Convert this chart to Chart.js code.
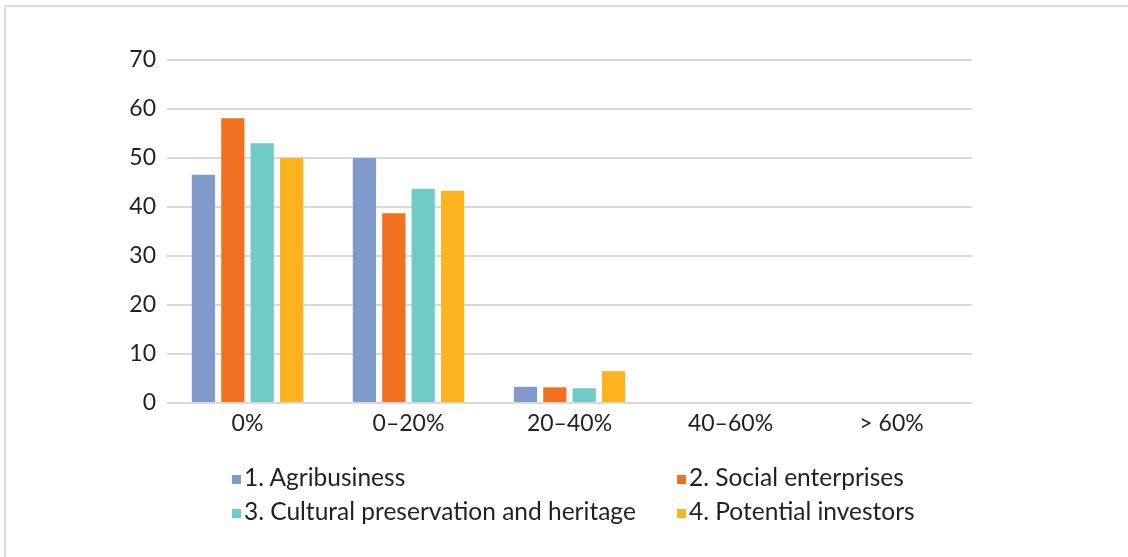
<!DOCTYPE html>
<html>
<head>
<meta charset="utf-8">
<script src="https://cdn.jsdelivr.net/npm/chart.js@4.4.1/dist/chart.umd.min.js"></script>
<style>
  html, body { margin: 0; padding: 0; background: #ffffff; }
  #wrap { position: relative; width: 1128px; height: 557px; overflow: hidden; }
  #frame {
    position: absolute; left: 4px; top: 5px; right: 0; bottom: 0;
    border-top: 2px solid #dcdcdc; border-left: 2px solid #dcdcdc;
  }
  #chart { position: absolute; left: 0; top: 0; }
  #legend {
    position: absolute; left: 232px; top: 461px;
    display: grid; grid-template-columns: 445px 300px; row-gap: 4px;
    font-family: Lato, "Open Sans", sans-serif; font-size: 24.5px; color: #231f20;
  }
  .item { display: flex; align-items: center; height: 30px; white-space: nowrap; }
  .box { width: 9px; height: 9px; margin-right: 3px; margin-top: 6px; }
</style>
</head>
<body>
<div id="wrap">
  <div id="frame"></div>
  <canvas id="chart" width="1128" height="557"></canvas>
  <div id="legend"></div>
</div>
<script>
// categories on the x axis
const categories = ["0%", "0\u201320%", "20\u201340%", "40\u201360%", "> 60%"];

// series values
const agribusiness = [46.6, 50.0, 3.3, 0, 0];
const socialEnterprises = [58.1, 38.7, 3.2, 0, 0];
const culturalHeritage = [53.0, 43.7, 3.0, 0, 0];
const potentialInvestors = [50.0, 43.3, 6.5, 0, 0];

const seriesNames = [
  "1. Agribusiness",
  "2. Social enterprises",
  "3. Cultural preservation and heritage",
  "4. Potential investors",
];
const seriesColors = ["#7f9acb", "#f37021", "#6fcbc5", "#fbb41e"];

// y axis ticks
const yMin = 0;
const yMax = 70;
const yStep = 10;

const seriesValues = [agribusiness, socialEnterprises, culturalHeritage, potentialInvestors];

const textColor = "#231f20";
const gridColor = "#d9d9d9";
const fontFamily = "Lato, 'Open Sans', sans-serif";

const ctx = document.getElementById("chart").getContext("2d");
const chart = new Chart(ctx, {
  type: "bar",
  data: {
    labels: categories,
    datasets: seriesValues.map((vals, i) => ({
      label: seriesNames[i],
      data: vals,
      backgroundColor: seriesColors[i],
      borderWidth: 0,
      barPercentage: 0.79,
      categoryPercentage: 0.73,
    })),
  },
  options: {
    responsive: false,
    animation: false,
    layout: { padding: { left: 0, top: 60, right: 156, bottom: 114 } },
    plugins: {
      legend: { display: false },
      tooltip: { enabled: false },
    },
    scales: {
      x: {
        grid: { display: false, drawTicks: false },
        border: { display: false },
        ticks: {
          color: textColor,
          font: { family: fontFamily, size: 23 },
          padding: 7,
        },
        afterFit: (scale) => { scale.height = 40; },
      },
      y: {
        min: yMin,
        max: yMax,
        grid: { color: gridColor, lineWidth: 2, drawTicks: false },
        border: { display: false },
        ticks: {
          stepSize: yStep,
          color: textColor,
          font: { family: fontFamily, size: 23 },
          padding: 11,
        },
        afterFit: (scale) => { scale.width = 167; },
      },
    },
  },
});

// legend built from the chart's datasets, laid out as a 2x2 grid
const legendEl = document.getElementById("legend");
chart.data.datasets.forEach((ds) => {
  const item = document.createElement("div");
  item.className = "item";
  const box = document.createElement("span");
  box.className = "box";
  box.style.background = ds.backgroundColor;
  const txt = document.createElement("span");
  txt.textContent = ds.label;
  item.appendChild(box);
  item.appendChild(txt);
  legendEl.appendChild(item);
});
</script>
</body>
</html>
